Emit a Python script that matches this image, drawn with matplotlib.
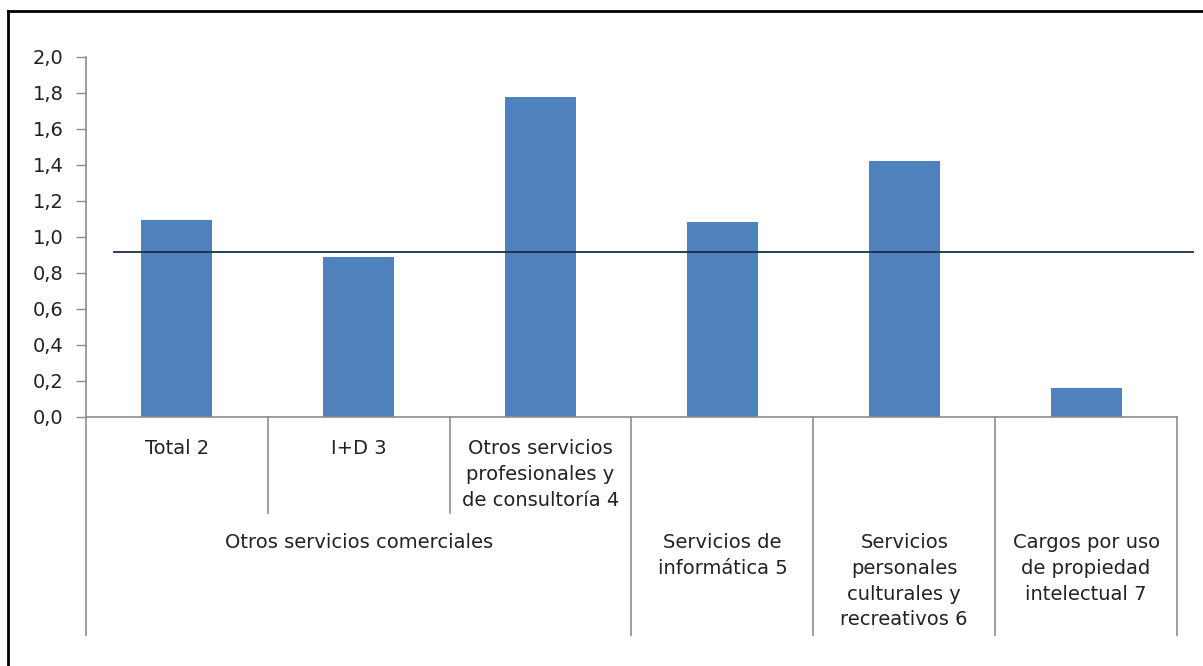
import numpy as np
import matplotlib
matplotlib.use('Agg')
import matplotlib.pyplot as plt
from matplotlib.ticker import FuncFormatter, MultipleLocator
from matplotlib.lines import Line2D

plt.rcParams['font.family'] = ['DejaVu Sans']

# data
sub_labels = ['Total 2', 'I+D 3', 'Otros servicios\nprofesionales y\nde consultoría 4', '', '', '']
values = [1.094, 0.889, 1.778, 1.083, 1.422, 0.161]
groups = ['Otros servicios comerciales', 'Servicios de\ninformática 5',
          'Servicios\npersonales\nculturales y\nrecreativos 6',
          'Cargos por uso\nde propiedad\nintelectual 7']
group_start = [0, 3, 4, 5]
group_size = [3, 1, 1, 1]
ref_value = 0.917

bar_color = '#4F81BD'
axis_color = '#8C8C8C'
text_color = '#222222'
fs = 14

fig = plt.figure(figsize=(12.03, 6.66), dpi=100)
ax = fig.add_axes([86/1203, 1 - 417/666, 1091/1203, 360/666])

x = np.arange(len(values))
ax.bar(x, values, width=0.39, color=bar_color, zorder=2)

# reference line (goes a bit outside the plot on the right)
ax.axhline(ref_value, xmin=28/1091, xmax=1107/1091, color='#1c2f45', lw=1.3,
           zorder=3, clip_on=False)

ax.set_xlim(-0.5, len(values) - 0.5)
ax.set_ylim(0, 2.0)
ax.yaxis.set_major_locator(MultipleLocator(0.2))
ax.yaxis.set_major_formatter(FuncFormatter(lambda v, p: f'{v:.1f}'.replace('.', ',')))
ax.tick_params(axis='y', length=7, width=1, color=axis_color, pad=9,
               labelsize=fs, labelcolor=text_color)
ax.set_xticks([])

for s in ['top', 'right']:
    ax.spines[s].set_visible(False)
for s in ['left', 'bottom']:
    ax.spines[s].set_color(axis_color)
    ax.spines[s].set_linewidth(1.2)

trans = ax.get_xaxis_transform()
short_end = -(513 - 417) / 360
long_end = -(635 - 417) / 360
row1_top = -(439 - 417) / 360
row2_top = -(533 - 417) / 360

# first level labels and short dividers
for i, lab in enumerate(sub_labels):
    if lab:
        ax.text(i, row1_top, lab, transform=trans, ha='center', va='top',
                fontsize=fs, color=text_color, linespacing=1.45)

for gs, gn in zip(group_start, group_size):
    for k in range(1, gn):
        ax.add_line(Line2D([gs + k - 0.5] * 2, [0, short_end], transform=trans,
                           color=axis_color, lw=1.2, clip_on=False))

# group labels and long dividers
edges = [-0.5]
for g, gs, gn in zip(groups, group_start, group_size):
    ax.text(gs + (gn - 1) / 2, row2_top, g, transform=trans, ha='center', va='top',
            fontsize=fs, color=text_color, linespacing=1.45)
    edges.append(gs + gn - 0.5)
for e in edges:
    ax.add_line(Line2D([e, e], [0, long_end], transform=trans,
                       color=axis_color, lw=1.2, clip_on=False))

# frame of the screenshot (top and left only)
fig.add_artist(Line2D([8/1203, 1], [1 - 11/666] * 2, transform=fig.transFigure,
                      color='black', lw=2))
fig.add_artist(Line2D([8/1203] * 2, [0, 1 - 11/666], transform=fig.transFigure,
                      color='black', lw=2))

fig.savefig('out.png', dpi=100, facecolor='white')
